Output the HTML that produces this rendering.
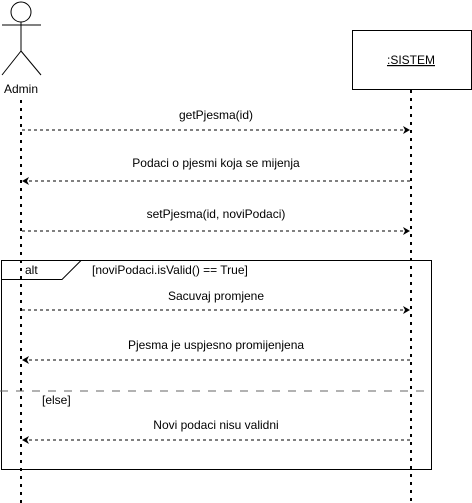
<!DOCTYPE html>
<html><head><style>body{margin:0;background:#fff}svg{display:block}text{font-family:"Liberation Sans",sans-serif;font-size:12px;fill:#000}</style></head>
<body>
<svg width="472" height="503" viewBox="0 0 472 503" xmlns="http://www.w3.org/2000/svg">
<defs><marker id="a" markerWidth="8" markerHeight="8" refX="7" refY="4" orient="auto" markerUnits="userSpaceOnUse"><path d="M0,0 L7,4 L0,8 L2,4 Z" fill="#000"/></marker></defs>
<g stroke="#000" fill="none" stroke-width="1">
<circle cx="21" cy="12" r="10" fill="#fff"/>
<line x1="21" y1="22" x2="21" y2="51"/>
<line x1="2" y1="25" x2="41" y2="25"/>
<line x1="21" y1="51" x2="2" y2="75"/>
<line x1="21" y1="51" x2="41" y2="75"/>
<rect x="352.5" y="30.5" width="119" height="59" fill="#fff"/>
<line x1="21" y1="100" x2="21" y2="503" stroke-width="2" stroke-dasharray="3,5"/>
<line x1="411" y1="90" x2="411" y2="503" stroke-width="2" stroke-dasharray="3,5"/>
<rect x="1.5" y="260.5" width="430" height="209"/>
<path d="M1.5,279.5 L62,279.5 L81,260.5"/>
<line x1="0" y1="391" x2="427" y2="391" stroke="#666" stroke-dasharray="8,8" stroke-dashoffset="0"/>
<g stroke-dasharray="3,3">
<line x1="22" y1="130" x2="410" y2="130" marker-end="url(#a)"/>
<line x1="410" y1="181" x2="22" y2="181" marker-end="url(#a)"/>
<line x1="22" y1="231" x2="410" y2="231" marker-end="url(#a)"/>
<line x1="22" y1="310" x2="410" y2="310" marker-end="url(#a)"/>
<line x1="410" y1="360" x2="22" y2="360" marker-end="url(#a)"/>
<line x1="410" y1="440" x2="22" y2="440" marker-end="url(#a)"/>
</g>
</g>
<text x="21" y="93" text-anchor="middle">Admin</text>
<text x="411" y="64" text-anchor="middle" text-decoration="underline">:SISTEM</text>
<text x="216" y="119" text-anchor="middle">getPjesma(id)</text>
<text x="216" y="167" text-anchor="middle">Podaci o pjesmi koja se mijenja</text>
<text x="216" y="218" text-anchor="middle">setPjesma(id, noviPodaci)</text>
<text x="25" y="274">alt</text>
<text x="92" y="274">[noviPodaci.isValid() == True]</text>
<text x="216" y="300" text-anchor="middle">Sacuvaj promjene</text>
<text x="216" y="349" text-anchor="middle">Pjesma je uspjesno promijenjena</text>
<text x="42" y="404">[else]</text>
<text x="216" y="429" text-anchor="middle">Novi podaci nisu validni</text>
</svg>
</body></html>
